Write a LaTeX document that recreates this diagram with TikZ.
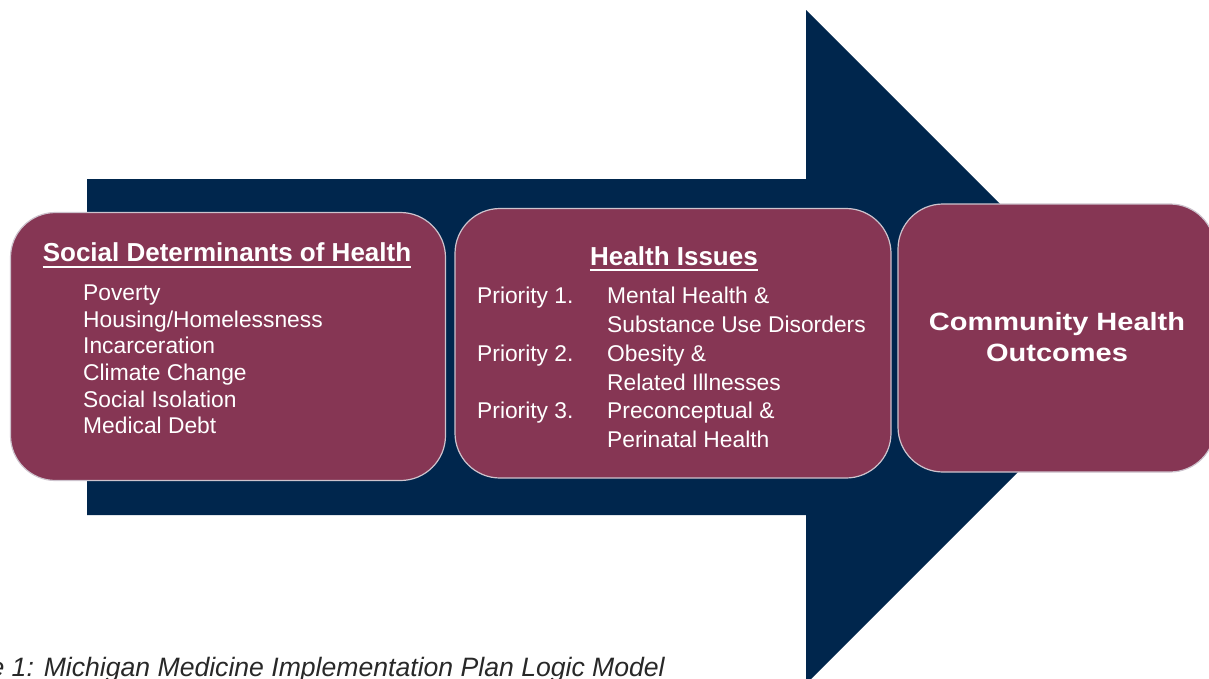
\documentclass[tikz,border=0pt]{standalone}
\usepackage{fontspec}
\setmainfont{Liberation Sans}
\definecolor{navy}{RGB}{0,38,77}
\definecolor{maroon}{RGB}{134,54,84}
\definecolor{edgegray}{RGB}{205,195,205}
\definecolor{captext}{RGB}{40,40,40}
\begin{document}
\begin{tikzpicture}[x=1pt,y=-1pt,
  box/.style={draw=edgegray, line width=1.2pt, fill=maroon, rounded corners=45pt, inner sep=0pt},
  ttl/.style={text=white, font=\fontsize{26}{31}\selectfont\bfseries, inner sep=0pt, anchor=base},
  itm/.style={text=white, font=\fontsize{22.8}{27}\selectfont, inner sep=0pt, anchor=base west},
  big/.style={text=white, font=\fontsize{25}{31}\selectfont\bfseries, inner sep=0pt, anchor=base},
  uline/.style={white, line width=1.8pt}]
\useasboundingbox (0,0) rectangle (1209,678);
\clip (0,0) rectangle (1209,678);
% big arrow
\fill[navy] (87,179) -- (806,179) -- (806,10) -- (1143,347) -- (806,684) -- (806,515) -- (87,515) -- cycle;
% boxes
\node[box, minimum width=435pt, minimum height=268pt] (sdoh) at (228,346.5) {};
\node[box, minimum width=436pt, minimum height=269.5pt] (issues) at (673,343.25) {};
\node[box, minimum width=317pt, minimum height=268pt] (outc) at (1056.5,338) {};
% box 1
\node[ttl] (t1) at (227,261.7) {Social Determinants of Health};
\draw[uline] ([yshift=-5pt]t1.base west) -- ([yshift=-5pt]t1.base east);
\node[itm] (s1) at (83,300.7) {Poverty};
\node[itm] (s2) at (83,327.3) {Housing/Homelessness};
\node[itm] (s3) at (83,353.9) {Incarceration};
\node[itm] (s4) at (83,380.5) {Climate Change};
\node[itm] (s5) at (83,407.1) {Social Isolation};
\node[itm] (s6) at (83,433.7) {Medical Debt};
% box 2
\node[ttl] (t2) at (674,265.7) {Health Issues};
\draw[uline] ([yshift=-4.6pt]t2.base west) -- ([yshift=-4.6pt]t2.base east);
\node[itm] (p1) at (477,303.3) {Priority 1.};
\node[itm] (h1) at (607,303.3) {Mental Health \&};
\node[itm] (h1b) at (607,332.2) {Substance Use Disorders};
\node[itm] (p2) at (477,361.1) {Priority 2.};
\node[itm] (h2) at (607,361.1) {Obesity \&};
\node[itm] (h2b) at (607,390.0) {Related Illnesses};
\node[itm] (p3) at (477,418.9) {Priority 3.};
\node[itm] (h3) at (607,418.9) {Preconceptual \&};
\node[itm] (h3b) at (607,447.8) {Perinatal Health};
% box 3
\node[big] (c1) at (1057,330) {\scalebox{1.16}[1]{Community Health}};
\node[big] (c2) at (1057,361) {\scalebox{1.16}[1]{Outcomes}};
% caption
\node[anchor=base east, inner sep=0pt, text=captext, font=\fontsize{26.6}{30}\selectfont\itshape] (cap) at (665,676) {Figure 1: Michigan Medicine Implementation Plan Logic Model};
\end{tikzpicture}
\end{document}
